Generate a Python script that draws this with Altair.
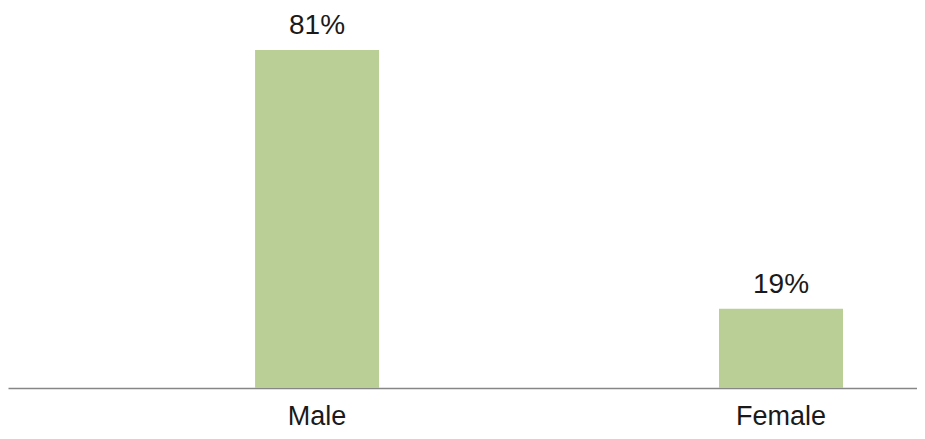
import altair as alt
import pandas as pd

categories = ["Male", "Female"]
shares = [0.81, 0.19]
labels = ["81%", "19%"]

df = pd.DataFrame({"gender": categories, "share": shares, "label": labels})

x_enc = alt.X(
    "gender:N",
    sort=categories,
    scale=alt.Scale(paddingInner=0.7328, paddingOuter=0.346, align=0.7695),
    axis=alt.Axis(
        title=None, labelAngle=0, ticks=False, grid=False,
        domainColor="#868686", domainWidth=1.5,
        labelFont="Liberation Sans", labelFontSize=27, labelColor="#1a1a1a",
        labelPadding=15,
    ),
)
y_enc = alt.Y(
    "share:Q",
    scale=alt.Scale(domain=[0, 0.908], nice=False, zero=True),
    axis=None,
)

bars = alt.Chart(df).mark_bar(color="#B9CF96").encode(x=x_enc, y=y_enc)
text = alt.Chart(df).mark_text(
    baseline="alphabetic", dy=-16, font="Liberation Sans", fontSize=28, color="#1a1a1a"
).encode(x=x_enc, y=y_enc, text="label:N")

chart = (
    alt.layer(bars, text)
    .properties(
        width=909, height=379,
        autosize=alt.AutoSizeParams(type="none"),
        padding={"top": 1, "bottom": 43, "left": 0, "right": 0},
        view=alt.ViewBackground(strokeWidth=0, stroke="white"),
    )
    .configure_view(strokeWidth=0, stroke="white")
    .configure(background="white")
)

chart.save("out.html", embed_options={"renderer": "svg", "actions": False})
